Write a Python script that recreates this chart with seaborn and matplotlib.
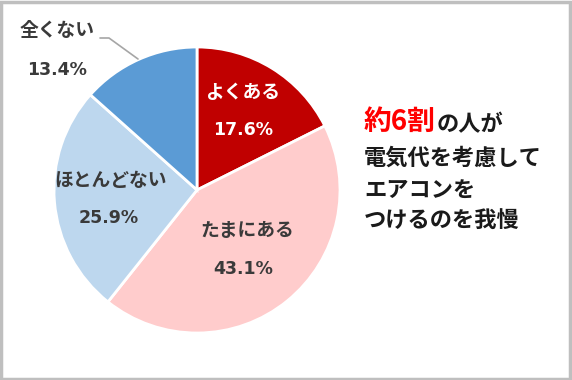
import matplotlib
matplotlib.use("Agg")
import matplotlib.pyplot as plt
from matplotlib.patches import Rectangle
import seaborn as sns

sns.set_theme(style="white")
plt.rcParams['font.family'] = ['Noto Sans CJK JP', 'DejaVu Sans']

categories = ["よくある", "たまにある", "ほとんどない", "全くない"]
values = [17.6, 43.1, 25.9, 13.4]
colors = ["#C00000", "#FFCCCC", "#BDD7EE", "#5B9BD5"]
text_colors = ["white", "#3A3A3A", "#3A3A3A", "#3A3A3A"]
pct_labels = ["17.6%", "43.1%", "25.9%", "13.4%"]

W, H = 572, 380
fig = plt.figure(figsize=(W / 100, H / 100), dpi=100)
cx, cy, R = 197, 190, 143
ax = fig.add_axes([(cx - R) / W, (H - cy - R) / H, 2 * R / W, 2 * R / H])
ax.pie(values, colors=colors, startangle=90, counterclock=False,
       wedgeprops=dict(edgecolor="white", linewidth=2.0), radius=1.0)
ax.set_xlim(-1, 1)
ax.set_ylim(-1, 1)
ax.set_aspect("equal")
ax.axis("off")

def px(x, y):
    return ((x - cx) / R, (cy - y) / R)

label_px = [(243, 92), (247, 231), (111, 180), (57, 31)]
pct_px = [(243, 130), (243, 269), (109, 218), (57, 70)]
for i in range(4):
    ax.text(*px(*label_px[i]), categories[i], ha="center", va="center",
            fontsize=13.5, fontweight="bold", color=text_colors[i], clip_on=False)
    ax.text(*px(*pct_px[i]), pct_labels[i], ha="center", va="center",
            fontsize=12.5, fontweight="bold", color=text_colors[i], clip_on=False,
            family=["DejaVu Sans"])

# leader line for 全くない
lx, ly = zip(px(100, 38), px(109, 38), px(138, 59))
ax.plot(lx, ly, color="#A6A6A6", lw=1.2, clip_on=False)

# right-side annotation
x0 = 364 / W
def fy(y):
    return (H - y) / H
t1 = fig.text(x0, fy(122), "約6割", color="#FF0000", fontsize=20,
              fontweight="bold", va="center", ha="left")
fig.canvas.draw()
bb = t1.get_window_extent()
fig.text(bb.x1 / W + 0.001, fy(125), "の人が", color="#1a1a1a", fontsize=16,
         fontweight="bold", va="center", ha="left")
for y, s in [(158, "電気代を考慮して"), (190, "エアコンを"), (221, "つけるのを我慢")]:
    fig.text(x0, fy(y), s, color="#1a1a1a", fontsize=16, fontweight="bold",
             va="center", ha="left")

fig.patches.append(Rectangle((0.002, 0.003), 0.995, 0.993, transform=fig.transFigure,
                             fill=False, edgecolor="#BFBFBF", linewidth=2.5))
fig.savefig("out.png", dpi=100, facecolor="white")
